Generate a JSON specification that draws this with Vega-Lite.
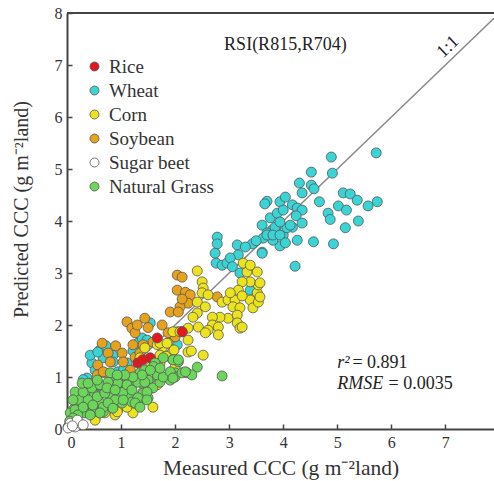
{
  "$schema": "https://vega.github.io/schema/vega-lite/v6.json",
  "autosize": {"type": "none"},
  "padding": {"left": 67, "top": 13, "right": 0, "bottom": 52},
  "width": 427,
  "height": 416,
  "config": {
    "font": "Liberation Serif",
    "view": {"stroke": null},
    "axis": {
      "domainColor": "#444",
      "domainWidth": 2,
      "tickColor": "#444",
      "tickWidth": 1.5,
      "tickSize": -5,
      "labelPadding": 10,
      "labelFont": "Liberation Serif",
      "labelFontSize": 16,
      "labelColor": "#333",
      "titleFont": "Liberation Serif",
      "titleFontSize": 20,
      "titleFontWeight": "normal",
      "titleColor": "#333",
      "grid": false
    },
    "legend": {
      "labelFont": "Liberation Serif",
      "labelFontSize": 19,
      "labelColor": "#333"
    }
  },
  "datasets": {
    "pts": [
      {"c":"Wheat","x":5.72,"y":5.31},{"c":"Wheat","x":4.89,"y":5.23},{"c":"Wheat","x":4.91,"y":4.92},{"c":"Wheat","x":4.52,"y":4.94},{"c":"Wheat","x":4.30,"y":4.73},{"c":"Wheat","x":4.52,"y":4.69},{"c":"Wheat","x":4.35,"y":4.54},{"c":"Wheat","x":4.57,"y":4.62},{"c":"Wheat","x":5.11,"y":4.54},{"c":"Wheat","x":5.24,"y":4.52},{"c":"Wheat","x":5.37,"y":4.40},{"c":"Wheat","x":5.74,"y":4.37},{"c":"Wheat","x":5.57,"y":4.29},{"c":"Wheat","x":4.67,"y":4.37},{"c":"Wheat","x":4.83,"y":4.15},{"c":"Wheat","x":5.02,"y":4.29},{"c":"Wheat","x":5.17,"y":4.21},{"c":"Wheat","x":5.39,"y":4.00},{"c":"Wheat","x":5.15,"y":3.87},{"c":"Wheat","x":4.87,"y":4.03},
      {"c":"Wheat","x":3.70,"y":4.38},{"c":"Wheat","x":3.66,"y":4.33},{"c":"Wheat","x":3.94,"y":4.37},{"c":"Wheat","x":4.04,"y":4.46},{"c":"Wheat","x":4.17,"y":4.31},{"c":"Wheat","x":4.26,"y":4.25},{"c":"Wheat","x":4.35,"y":4.21},{"c":"Wheat","x":3.76,"y":4.06},{"c":"Wheat","x":3.89,"y":4.15},{"c":"Wheat","x":4.00,"y":4.21},{"c":"Wheat","x":4.24,"y":4.10},{"c":"Wheat","x":4.35,"y":3.96},{"c":"Wheat","x":4.17,"y":3.88},{"c":"Wheat","x":3.61,"y":3.92},{"c":"Wheat","x":3.80,"y":3.83},{"c":"Wheat","x":3.87,"y":3.88},{"c":"Wheat","x":3.70,"y":3.77},{"c":"Wheat","x":4.00,"y":3.73},{"c":"Wheat","x":4.26,"y":3.63},{"c":"Wheat","x":4.56,"y":3.60},{"c":"Wheat","x":4.93,"y":3.56},{"c":"Wheat","x":3.94,"y":3.52},{"c":"Wheat","x":3.61,"y":3.40},{"c":"Wheat","x":4.22,"y":3.13},{"c":"Wheat","x":3.85,"y":3.88},{"c":"Wheat","x":3.63,"y":3.67},{"c":"Wheat","x":3.81,"y":3.63},{"c":"Wheat","x":4.07,"y":3.87},{"c":"Wheat","x":4.13,"y":3.92},{"c":"Wheat","x":3.94,"y":3.98},
      {"c":"Wheat","x":2.78,"y":3.69},{"c":"Wheat","x":2.78,"y":3.56},{"c":"Wheat","x":2.74,"y":3.38},{"c":"Wheat","x":2.76,"y":3.19},{"c":"Wheat","x":2.87,"y":3.15},{"c":"Wheat","x":2.96,"y":3.19},{"c":"Wheat","x":3.15,"y":3.54},{"c":"Wheat","x":3.17,"y":3.35},{"c":"Wheat","x":3.02,"y":3.29},{"c":"Wheat","x":3.06,"y":3.12},{"c":"Wheat","x":3.43,"y":3.56},{"c":"Wheat","x":3.61,"y":3.38},{"c":"Wheat","x":3.70,"y":3.73},{"c":"Wheat","x":3.81,"y":3.73},{"c":"Wheat","x":3.94,"y":3.73},{"c":"Wheat","x":4.04,"y":3.58},{"c":"Wheat","x":3.20,"y":3.00},{"c":"Wheat","x":3.39,"y":2.67},{"c":"Wheat","x":3.30,"y":3.50},{"c":"Wheat","x":3.50,"y":3.62},
      {"c":"Wheat","x":0.61,"y":1.52},{"c":"Wheat","x":0.67,"y":1.37},{"c":"Wheat","x":0.46,"y":1.27},{"c":"Wheat","x":0.37,"y":0.98},{"c":"Wheat","x":0.85,"y":1.42},{"c":"Wheat","x":0.85,"y":1.29},{"c":"Wheat","x":0.52,"y":1.13},{"c":"Wheat","x":0.94,"y":1.10},{"c":"Wheat","x":1.11,"y":1.27},{"c":"Wheat","x":1.31,"y":1.65},{"c":"Wheat","x":1.39,"y":1.75},{"c":"Wheat","x":1.54,"y":2.04},{"c":"Wheat","x":0.43,"y":1.42},{"c":"Wheat","x":0.57,"y":1.48},{"c":"Wheat","x":0.72,"y":1.60},{"c":"Wheat","x":1.22,"y":1.50},{"c":"Wheat","x":1.05,"y":1.15},{"c":"Wheat","x":0.30,"y":0.95},{"c":"Wheat","x":2.04,"y":1.62},{"c":"Wheat","x":1.48,"y":1.71},
      {"c":"Soybean","x":2.04,"y":2.96},{"c":"Soybean","x":2.13,"y":2.92},{"c":"Soybean","x":2.04,"y":2.67},{"c":"Soybean","x":2.19,"y":2.63},{"c":"Soybean","x":2.28,"y":2.58},{"c":"Soybean","x":2.24,"y":2.42},{"c":"Soybean","x":2.09,"y":2.35},{"c":"Soybean","x":2.13,"y":2.50},{"c":"Soybean","x":1.91,"y":2.25},{"c":"Soybean","x":2.06,"y":2.25},{"c":"Soybean","x":2.78,"y":2.54},{"c":"Soybean","x":1.44,"y":2.13},{"c":"Soybean","x":1.76,"y":2.00},{"c":"Soybean","x":1.59,"y":1.67},{"c":"Soybean","x":2.04,"y":1.87},{"c":"Soybean","x":2.00,"y":1.77},{"c":"Soybean","x":1.11,"y":2.06},{"c":"Soybean","x":1.20,"y":1.94},{"c":"Soybean","x":1.26,"y":1.85},{"c":"Soybean","x":1.22,"y":1.62},{"c":"Soybean","x":1.41,"y":1.62},{"c":"Soybean","x":1.87,"y":1.85},{"c":"Soybean","x":0.65,"y":1.65},{"c":"Soybean","x":0.76,"y":1.46},{"c":"Soybean","x":1.02,"y":1.46},{"c":"Soybean","x":1.04,"y":1.29},{"c":"Soybean","x":0.80,"y":1.29},{"c":"Soybean","x":0.57,"y":1.23},{"c":"Soybean","x":0.56,"y":1.04},{"c":"Soybean","x":0.70,"y":1.08},{"c":"Soybean","x":0.46,"y":0.88},{"c":"Soybean","x":1.26,"y":1.38},{"c":"Soybean","x":1.35,"y":1.46},{"c":"Soybean","x":1.17,"y":1.13},{"c":"Soybean","x":0.48,"y":0.79},{"c":"Soybean","x":1.30,"y":2.00},{"c":"Soybean","x":0.90,"y":1.60},{"c":"Soybean","x":0.67,"y":1.10},{"c":"Soybean","x":1.50,"y":1.95},{"c":"Soybean","x":0.35,"y":0.70},{"c":"Soybean","x":0.20,"y":0.45},
      {"c":"Corn","x":2.41,"y":3.04},{"c":"Corn","x":2.50,"y":2.83},{"c":"Corn","x":2.52,"y":2.71},{"c":"Corn","x":2.50,"y":2.62},{"c":"Corn","x":2.41,"y":2.44},{"c":"Corn","x":2.61,"y":2.58},{"c":"Corn","x":2.56,"y":2.35},{"c":"Corn","x":2.41,"y":2.23},{"c":"Corn","x":2.33,"y":2.15},{"c":"Corn","x":2.87,"y":2.44},{"c":"Corn","x":2.98,"y":2.48},{"c":"Corn","x":3.11,"y":2.48},{"c":"Corn","x":3.07,"y":2.35},{"c":"Corn","x":3.20,"y":2.33},{"c":"Corn","x":2.98,"y":2.13},{"c":"Corn","x":3.15,"y":2.19},{"c":"Corn","x":3.15,"y":2.04},{"c":"Corn","x":3.20,"y":1.94},{"c":"Corn","x":2.83,"y":2.15},{"c":"Corn","x":2.69,"y":2.15},{"c":"Corn","x":2.69,"y":2.00},{"c":"Corn","x":2.61,"y":1.90},{"c":"Corn","x":2.80,"y":1.96},{"c":"Corn","x":2.80,"y":1.81},{"c":"Corn","x":3.39,"y":2.48},{"c":"Corn","x":3.44,"y":2.33},{"c":"Corn","x":3.54,"y":2.44},{"c":"Corn","x":3.52,"y":2.62},{"c":"Corn","x":3.54,"y":2.77},{"c":"Corn","x":3.39,"y":2.83},{"c":"Corn","x":3.24,"y":2.83},{"c":"Corn","x":3.33,"y":3.02},{"c":"Corn","x":3.26,"y":3.19},{"c":"Corn","x":3.39,"y":3.15},{"c":"Corn","x":3.52,"y":3.02},{"c":"Corn","x":3.17,"y":2.67},{"c":"Corn","x":3.24,"y":2.56},{"c":"Corn","x":3.02,"y":2.62},{"c":"Corn","x":2.43,"y":1.96},{"c":"Corn","x":2.56,"y":1.85},{"c":"Corn","x":2.24,"y":1.94},{"c":"Corn","x":2.24,"y":1.71},{"c":"Corn","x":2.13,"y":1.87},{"c":"Corn","x":1.96,"y":1.87},{"c":"Corn","x":1.87,"y":1.65},{"c":"Corn","x":1.76,"y":1.56},{"c":"Corn","x":1.67,"y":1.62},{"c":"Corn","x":1.72,"y":1.42},{"c":"Corn","x":1.94,"y":1.46},{"c":"Corn","x":2.24,"y":1.48},{"c":"Corn","x":2.52,"y":1.42},{"c":"Corn","x":1.98,"y":1.52},{"c":"Corn","x":1.83,"y":1.40},{"c":"Corn","x":3.57,"y":2.81},{"c":"Corn","x":3.57,"y":2.54},{"c":"Corn","x":3.24,"y":1.96},{"c":"Corn","x":1.72,"y":1.65},{"c":"Corn","x":1.85,"y":1.65},{"c":"Corn","x":2.09,"y":1.87},{"c":"Corn","x":1.44,"y":1.56},{"c":"Corn","x":1.35,"y":1.37},{"c":"Corn","x":1.54,"y":1.19},{"c":"Corn","x":1.72,"y":1.27},{"c":"Corn","x":1.96,"y":1.33},{"c":"Corn","x":2.00,"y":1.19},{"c":"Corn","x":2.30,"y":1.50},
      {"c":"Corn","x":1.11,"y":0.60},{"c":"Corn","x":1.17,"y":0.52},{"c":"Corn","x":0.94,"y":0.37},{"c":"Corn","x":0.89,"y":0.27},{"c":"Corn","x":0.52,"y":0.21},{"c":"Corn","x":0.55,"y":0.30},{"c":"Corn","x":1.59,"y":0.42},{"c":"Corn","x":1.57,"y":0.79},{"c":"Corn","x":1.67,"y":0.85},{"c":"Corn","x":1.22,"y":0.31},{"c":"Corn","x":1.11,"y":0.42},{"c":"Corn","x":0.93,"y":0.33},{"c":"Corn","x":0.70,"y":0.31},{"c":"Corn","x":0.52,"y":0.17},{"c":"Corn","x":1.40,"y":0.70},{"c":"Corn","x":1.30,"y":0.55},
      {"c":"Rice","x":1.67,"y":1.75},{"c":"Rice","x":1.54,"y":1.37},{"c":"Rice","x":1.31,"y":1.27},{"c":"Rice","x":2.13,"y":1.87},{"c":"Rice","x":1.40,"y":1.33},{"c":"Rice","x":0.02,"y":0.04},
      {"c":"Natural Grass","x":2.87,"y":1.02},{"c":"Natural Grass","x":2.41,"y":1.19},{"c":"Natural Grass","x":2.22,"y":1.08},{"c":"Natural Grass","x":2.06,"y":1.29},{"c":"Natural Grass","x":2.00,"y":1.08},{"c":"Natural Grass","x":1.85,"y":1.00},{"c":"Natural Grass","x":1.67,"y":1.00},{"c":"Natural Grass","x":1.50,"y":0.94},{"c":"Natural Grass","x":1.35,"y":1.08},{"c":"Natural Grass","x":1.39,"y":0.88},{"c":"Natural Grass","x":1.20,"y":0.85},{"c":"Natural Grass","x":1.04,"y":0.88},{"c":"Natural Grass","x":0.89,"y":0.81},{"c":"Natural Grass","x":0.80,"y":0.90},{"c":"Natural Grass","x":0.65,"y":0.69},{"c":"Natural Grass","x":0.48,"y":0.69},{"c":"Natural Grass","x":0.33,"y":0.69},{"c":"Natural Grass","x":0.24,"y":0.52},{"c":"Natural Grass","x":0.11,"y":0.37},{"c":"Natural Grass","x":0.28,"y":0.33},{"c":"Natural Grass","x":0.46,"y":0.33},{"c":"Natural Grass","x":0.61,"y":0.50},{"c":"Natural Grass","x":0.80,"y":0.60},{"c":"Natural Grass","x":0.98,"y":0.69},{"c":"Natural Grass","x":1.17,"y":0.62},{"c":"Natural Grass","x":1.31,"y":0.50},{"c":"Natural Grass","x":1.50,"y":0.60},{"c":"Natural Grass","x":1.59,"y":0.79},{"c":"Natural Grass","x":1.72,"y":0.90},{"c":"Natural Grass","x":1.91,"y":0.94},{"c":"Natural Grass","x":2.00,"y":1.00},{"c":"Natural Grass","x":2.13,"y":1.08},{"c":"Natural Grass","x":2.31,"y":1.04},{"c":"Natural Grass","x":1.96,"y":1.33},{"c":"Natural Grass","x":1.78,"y":1.37},{"c":"Natural Grass","x":1.63,"y":1.27},{"c":"Natural Grass","x":1.44,"y":1.13},{"c":"Natural Grass","x":1.11,"y":0.98},{"c":"Natural Grass","x":0.80,"y":1.08},{"c":"Natural Grass","x":0.65,"y":0.81},{"c":"Natural Grass","x":0.37,"y":0.50},{"c":"Natural Grass","x":0.06,"y":0.31},{"c":"Natural Grass","x":0.67,"y":0.33},{"c":"Natural Grass","x":0.83,"y":0.42},{"c":"Natural Grass","x":1.02,"y":0.50},{"c":"Natural Grass","x":1.20,"y":0.52},{"c":"Natural Grass","x":1.41,"y":0.69},{"c":"Natural Grass","x":0.15,"y":0.71},{"c":"Natural Grass","x":0.24,"y":0.56},{"c":"Natural Grass","x":0.15,"y":0.37},{"c":"Natural Grass","x":0.33,"y":0.31},{"c":"Natural Grass","x":0.56,"y":0.33},{"c":"Natural Grass","x":0.67,"y":0.42},{"c":"Natural Grass","x":0.39,"y":0.56},{"c":"Natural Grass","x":0.56,"y":0.62},{"c":"Natural Grass","x":0.70,"y":0.69},{"c":"Natural Grass","x":0.30,"y":0.71},{"c":"Natural Grass","x":0.46,"y":0.79},{"c":"Natural Grass","x":0.61,"y":0.85},{"c":"Natural Grass","x":0.94,"y":0.88},{"c":"Natural Grass","x":1.04,"y":0.71},{"c":"Natural Grass","x":1.11,"y":0.85},{"c":"Natural Grass","x":1.20,"y":0.75},{"c":"Natural Grass","x":1.31,"y":0.60},{"c":"Natural Grass","x":1.31,"y":0.90},{"c":"Natural Grass","x":1.44,"y":0.90},{"c":"Natural Grass","x":1.48,"y":0.71},{"c":"Natural Grass","x":1.48,"y":0.56},{"c":"Natural Grass","x":1.67,"y":1.04},{"c":"Natural Grass","x":1.78,"y":1.00},{"c":"Natural Grass","x":1.91,"y":1.10},{"c":"Natural Grass","x":1.96,"y":0.98},{"c":"Natural Grass","x":2.06,"y":1.33},{"c":"Natural Grass","x":2.19,"y":1.10},{"c":"Natural Grass","x":1.60,"y":1.20},{"c":"Natural Grass","x":1.72,"y":1.17},{"c":"Natural Grass","x":1.54,"y":1.13},{"c":"Natural Grass","x":1.39,"y":1.04},{"c":"Natural Grass","x":1.22,"y":1.00},{"c":"Natural Grass","x":1.07,"y":1.04},{"c":"Natural Grass","x":0.93,"y":1.04},{"c":"Natural Grass","x":0.76,"y":0.90},{"c":"Natural Grass","x":0.74,"y":0.79},{"c":"Natural Grass","x":0.89,"y":0.75},{"c":"Natural Grass","x":0.89,"y":0.56},{"c":"Natural Grass","x":1.04,"y":0.56},{"c":"Natural Grass","x":0.76,"y":0.50},{"c":"Natural Grass","x":0.85,"y":0.40},{"c":"Natural Grass","x":0.61,"y":0.31},{"c":"Natural Grass","x":0.43,"y":0.27},{"c":"Natural Grass","x":0.20,"y":0.27},{"c":"Natural Grass","x":0.11,"y":0.21},{"c":"Natural Grass","x":0.30,"y":0.42},{"c":"Natural Grass","x":0.48,"y":0.46},{"c":"Natural Grass","x":1.26,"y":0.50},{"c":"Natural Grass","x":1.35,"y":0.42},{"c":"Natural Grass","x":0.11,"y":0.56},{"c":"Natural Grass","x":0.28,"y":0.88},{"c":"Natural Grass","x":0.39,"y":0.88},{"c":"Natural Grass","x":0.56,"y":0.94},{"c":"Natural Grass","x":0.05,"y":0.15},
      {"c":"Sugar beet","x":0.06,"y":0.11},{"c":"Sugar beet","x":0.15,"y":0.04},{"c":"Sugar beet","x":0.24,"y":0.11},{"c":"Sugar beet","x":0.02,"y":0.02},{"c":"Sugar beet","x":0.19,"y":0.17},{"c":"Sugar beet","x":0.30,"y":0.08},{"c":"Sugar beet","x":0.10,"y":0.06}
    ],
    "line": [{"x": 0, "y": 0}, {"x": 7.9, "y": 7.9}],
    "labels": [
      {"x": 4.04, "y": 7.38, "t": "RSI(R815,R704)", "a": 0},
      {"x": 7.05, "y": 7.35, "t": "1:1", "a": 316}
    ],
    "stats": [
      {"x": 5.0, "y": 1.27, "t": "r²", "s": "italic"},
      {"x": 5.28, "y": 1.27, "t": "= 0.891", "s": "normal"},
      {"x": 5.0, "y": 0.86, "t": "RMSE", "s": "italic"},
      {"x": 5.95, "y": 0.86, "t": "= 0.0035", "s": "normal"}
    ]
  },
  "encoding": {
    "x": {"field": "x", "type": "quantitative", "scale": {"domain": [0, 7.9], "nice": false, "zero": false},
      "axis": {"title": "Measured CCC (g m⁻²land)", "values": [0,1,2,3,4,5,6,7], "titlePadding": 7, "titleFontSize": 21.5}},
    "y": {"field": "y", "type": "quantitative", "scale": {"domain": [0, 8], "nice": false},
      "axis": {"title": "Predicted CCC (g m⁻²land)", "values": [0,1,2,3,4,5,6,7,8], "titlePadding": 23, "titleY": 196}}
  },
  "layer": [
    {"data": {"name": "line"}, "mark": {"type": "line", "color": "#888", "strokeWidth": 1.5}},
    {"data": {"name": "line"}, "mark": {"type": "rule", "color": "#444", "strokeWidth": 2},
      "encoding": {"x": null, "y": {"datum": 8}}},
    {"data": {"name": "pts"},
      "mark": {"type": "point", "shape": "circle", "filled": true, "size": 100, "stroke": "#555", "strokeWidth": 0.8, "opacity": 1},
      "encoding": {
        "color": {"field": "c", "type": "nominal",
          "scale": {"domain": ["Rice","Wheat","Corn","Soybean","Sugar beet","Natural Grass"],
                    "range": ["#e3171c","#3ad3d6","#ece31e","#e7a21c","#ffffff","#6bd65a"]},
          "legend": {"title": null, "orient": "none", "legendX": 18, "legendY": 44,
            "symbolType": "circle", "symbolSize": 80, "symbolStrokeColor": "#555", "symbolStrokeWidth": 0.8,
            "symbolOpacity": 1, "rowPadding": 4, "labelOffset": 5}}
      }},
    {"data": {"name": "labels"},
      "mark": {"type": "text", "fontSize": 18, "color": "#222", "baseline": "middle", "align": "center"},
      "encoding": {"text": {"field": "t"}, "angle": {"field": "a", "type": "quantitative", "scale": null}}},
    {"data": {"name": "stats"},
      "transform": [{"filter": "datum.s === 'italic'"}],
      "mark": {"type": "text", "fontSize": 18, "color": "#222", "align": "left", "baseline": "middle", "fontStyle": "italic"},
      "encoding": {"text": {"field": "t"}}},
    {"data": {"name": "stats"},
      "transform": [{"filter": "datum.s === 'normal'"}],
      "mark": {"type": "text", "fontSize": 18, "color": "#222", "align": "left", "baseline": "middle"},
      "encoding": {"text": {"field": "t"}}}
  ]
}
